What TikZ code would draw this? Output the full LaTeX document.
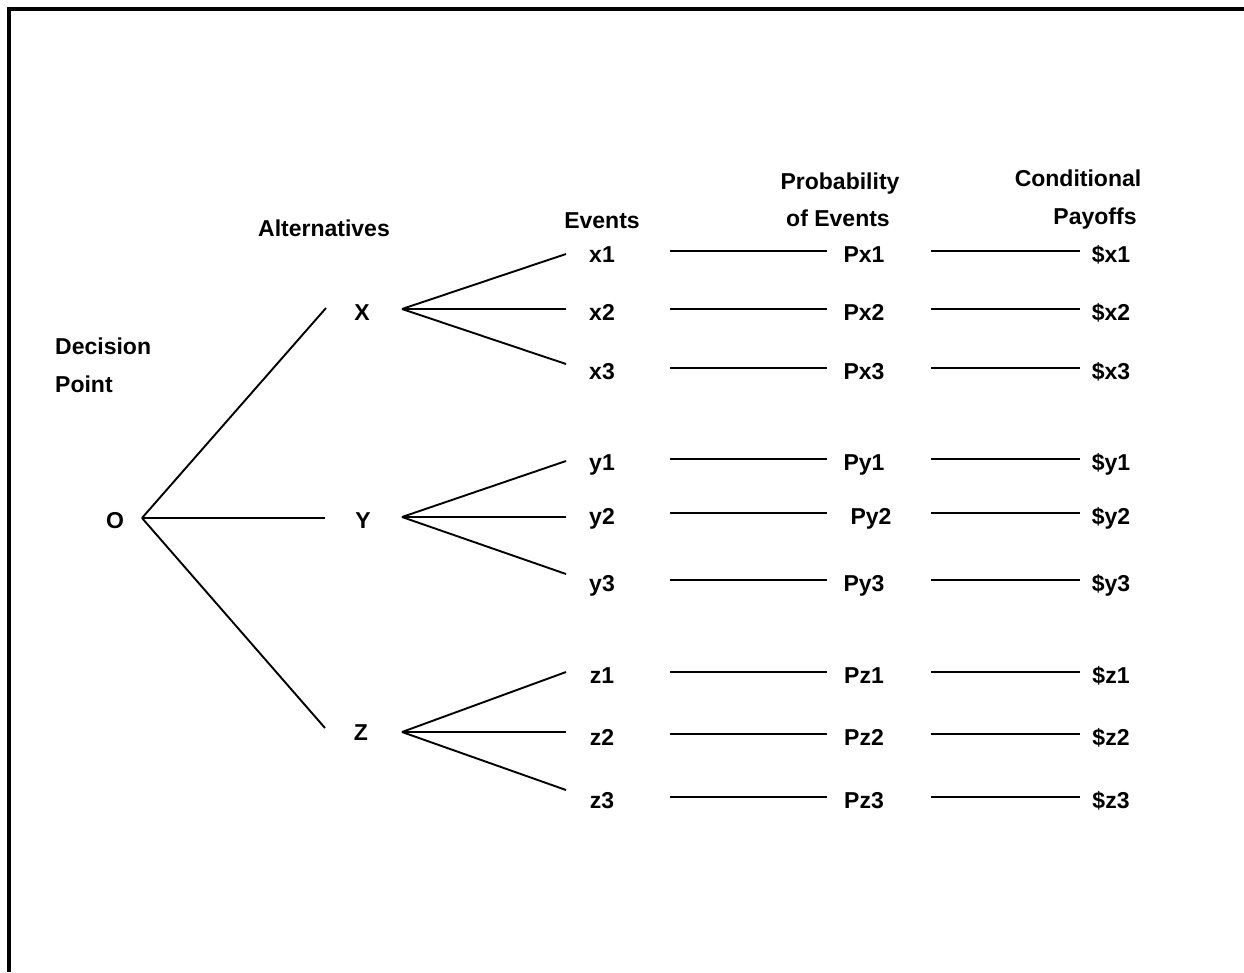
\documentclass[tikz,border=0pt]{standalone}
\usepackage{fontspec}
\setmainfont{Liberation Sans}
\begin{document}
\begin{tikzpicture}[x=1pt,y=-1pt,
  txt/.style={font=\fontsize{23}{27}\selectfont\bfseries, inner sep=0pt},
  lbl/.style={txt, text height=16.5pt, text depth=0pt},
  rowtxt/.style={txt, text height=22.4pt, text depth=0pt},
  ln/.style={line width=1.9pt},
  frame/.style={line width=3.5pt}]
\useasboundingbox (0,0) rectangle (1244,972);
\draw[frame] (9,972) -- (9,9) -- (1244,9);

% headers
\node[lbl, anchor=west] (hdec) at (55,346) {Decision};
\node[lbl, anchor=west] (hpt) at (55,384) {Point};
\node[lbl] (halt) at (324,228) {Alternatives};
\node[lbl] (hev) at (602,220) {Events};
\node[lbl] (hprob) at (840,181) {Probability};
\node[lbl] (hofev) at (838,218) {of Events};
\node[lbl] (hcond) at (1078,178) {Conditional};
\node[lbl] (hpay) at (1095,216) {Payoffs};

% decision point and alternatives
\node[lbl] (O) at (115,520) {O};
\node[lbl] (X) at (362,312) {X};
\node[lbl] (Y) at (363,520) {Y};
\node[lbl] (Z) at (361,732) {Z};

\coordinate (Of) at (142,518);
\coordinate (Xin) at (326,308);
\coordinate (Yin) at (325,518);
\coordinate (Zin) at (325,728);
\coordinate (Xf) at (402,309);
\coordinate (Yf) at (402,517);
\coordinate (Zf) at (402,732);

\draw[ln] (Of) -- (Xin);
\draw[ln] (Of) -- (Yin);
\draw[ln] (Of) -- (Zin);

% rows: name / y of line / centre of probability node
\foreach \n/\yy/\px in {x1/251/864, x2/309/864, x3/368/864,
                        y1/459/864, y2/513/871, y3/580/864,
                        z1/672/864, z2/734/864, z3/797/864}{
  \node[rowtxt] (e\n) at (602,\yy) {\n};
  \node[rowtxt] (p\n) at (\px,\yy) {P\n};
  \node[rowtxt] (d\n) at (1111,\yy) {\$\n};
  \pgfmathsetmacro\sa{\px-827}
  \pgfmathsetmacro\sb{931-\px}
  \draw[ln, shorten <=68pt, shorten >=\sa pt] (e\n.center) -- (p\n.center);
  \draw[ln, shorten <=\sb pt, shorten >=31pt] (p\n.center) -- (d\n.center);
}

% branch ends
\coordinate (bx1) at (566,254);
\coordinate (bx2) at (566,309);
\coordinate (bx3) at (566,364);
\coordinate (by1) at (566,461);
\coordinate (by2) at (566,517);
\coordinate (by3) at (566,574);
\coordinate (bz1) at (566,672);
\coordinate (bz2) at (566,732);
\coordinate (bz3) at (566,790);

\foreach \a/\b in {X/x, Y/y, Z/z}{
  \foreach \i in {1,2,3}{
    \draw[ln] (\a f) -- (b\b\i);
  }
}
\end{tikzpicture}
\end{document}
